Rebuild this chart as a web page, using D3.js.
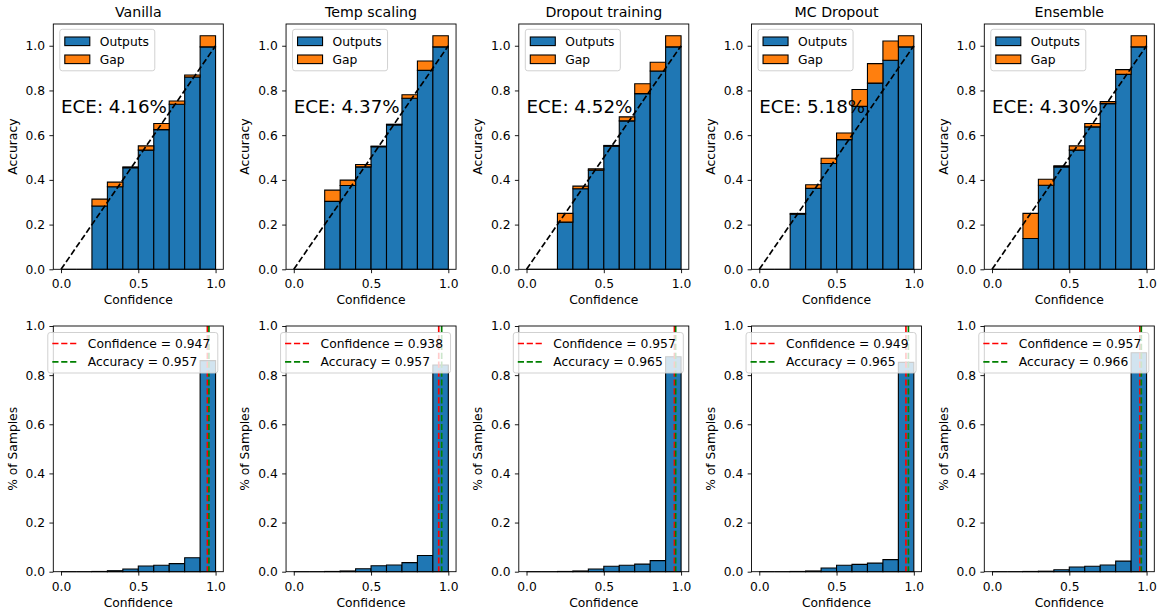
<!DOCTYPE html>
<html><head><meta charset="utf-8">
<script src="https://cdn.jsdelivr.net/npm/d3@7"></script>
<style>
body{margin:0;background:#fff}
svg{display:block}
text{font-family:"DejaVu Sans",sans-serif;fill:#000}
</style>
</head><body>
<svg id="c" width="1165" height="611"></svg>
<script>
// ---------- data ----------
const methods = ["Vanilla", "Temp scaling", "Dropout training", "MC Dropout", "Ensemble"];
const eceLabels = ["4.16%", "4.37%", "4.52%", "5.18%", "4.30%"];
const binStarts = [0, 0.1, 0.2, 0.3, 0.4, 0.5, 0.6, 0.7, 0.8, 0.9];

const accVanilla  = [0, 0, 0.283, 0.369, 0.454, 0.533, 0.625, 0.738, 0.860, 0.995];
const gapVanilla  = [0, 0, 0.031, 0.021, 0.004, 0.019, 0.027, 0.015, 0.009, 0.050];
const accTemp     = [0, 0, 0.304, 0.375, 0.458, 0.548, 0.646, 0.765, 0.890, 0.995];
const gapTemp     = [0, 0, 0.050, 0.024, 0.011, 0.003, 0.003, 0.016, 0.042, 0.050];
const accDropout  = [0, 0, 0.211, 0.360, 0.443, 0.551, 0.664, 0.786, 0.887, 0.995];
const gapDropout  = [0, 0, 0.039, 0.012, 0.006, 0.003, 0.018, 0.044, 0.039, 0.050];
const accMC       = [0, 0, 0.247, 0.362, 0.473, 0.580, 0.729, 0.833, 0.935, 0.995];
const gapMC       = [0, 0, 0.003, 0.016, 0.024, 0.030, 0.075, 0.087, 0.086, 0.050];
const accEnsemble = [0, 0, 0.138, 0.376, 0.458, 0.533, 0.637, 0.741, 0.872, 0.995];
const gapEnsemble = [0, 0, 0.112, 0.027, 0.005, 0.019, 0.015, 0.009, 0.021, 0.050];

const samplesVanilla  = [0, 0, 0.001, 0.004, 0.011, 0.023, 0.026, 0.033, 0.057, 0.859];
const samplesTemp     = [0, 0, 0.001, 0.003, 0.012, 0.024, 0.027, 0.037, 0.066, 0.841];
const samplesDropout  = [0, 0, 0.001, 0.003, 0.011, 0.022, 0.026, 0.031, 0.045, 0.875];
const samplesMC       = [0, 0, 0.001, 0.003, 0.015, 0.026, 0.030, 0.035, 0.049, 0.852];
const samplesEnsemble = [0, 0, 0.001, 0.002, 0.008, 0.019, 0.022, 0.027, 0.043, 0.891];

const avgConfidence = [0.947, 0.938, 0.957, 0.949, 0.957];
const avgAccuracy   = [0.957, 0.957, 0.965, 0.965, 0.966];

const yTicks = [0, 0.2, 0.4, 0.6, 0.8, 1.0];
const xTicks = [0, 0.5, 1.0];

const accAll = [accVanilla, accTemp, accDropout, accMC, accEnsemble];
const gapAll = [gapVanilla, gapTemp, gapDropout, gapMC, gapEnsemble];
const samplesAll = [samplesVanilla, samplesTemp, samplesDropout, samplesMC, samplesEnsemble];

// ---------- layout ----------
const svg = d3.select("#c");
const FS = 12.3, TITLE_FS = 14.2, ECE_FS = 18.3;
const L0 = 53.3, STEP = 232.75, W = 170;
const TOP = {y0: 24, y1: 269.3};
const BOT = {y0: 326, y1: 571.7};
const BLUE = "#1f77b4", ORANGE = "#ff7f0e";
const DASH = "6.2,2.7";
const binW = 0.1;

function barPath(x, y, x0, x1, v0, v1) {
  const a = x(x0), b = x(x1), t = y(v1), u = y(v0);
  return `M${a},${u}H${b}V${t}H${a}Z`;
}

function axes(g, x, y, box, xlabel, ylabel, labelBase) {
  g.append("rect").attr("x", x.range()[0]).attr("y", box.y0)
    .attr("width", x.range()[1] - x.range()[0]).attr("height", box.y1 - box.y0)
    .attr("fill", "none").attr("stroke", "#000").attr("stroke-width", 0.9);
  const xa = g.append("g").attr("transform", `translate(0,${box.y1})`)
    .call(d3.axisBottom(x).tickValues(xTicks).tickFormat(d3.format(".1f")).tickSize(3.9).tickPadding(6.2));
  const ya = g.append("g").attr("transform", `translate(${x.range()[0]},0)`)
    .call(d3.axisLeft(y).tickValues(yTicks).tickFormat(d3.format(".1f")).tickSize(3.9).tickPadding(4.4));
  [xa, ya].forEach(a => {
    a.select(".domain").remove();
    a.selectAll("line").attr("stroke", "#000").attr("stroke-width", 0.9);
    a.selectAll("text").attr("font-family", "DejaVu Sans").attr("font-size", FS).attr("fill", "#000");
  });
  const cx = (x.range()[0] + x.range()[1]) / 2;
  g.append("text").attr("x", cx).attr("y", labelBase).attr("text-anchor", "middle")
    .attr("font-size", FS).text(xlabel);
  g.append("text").attr("transform", `translate(${x.range()[0] - 36.8},${(box.y0 + box.y1) / 2}) rotate(-90)`)
    .attr("text-anchor", "middle").attr("font-size", FS).text(ylabel);
}

methods.forEach((m, i) => {
  const left = L0 + i * STEP;
  const x = d3.scaleLinear().domain([-0.05, 1.05]).range([left, left + W]);
  const acc = accAll[i], gap = gapAll[i];
  const ymax = d3.max(acc.map((a, k) => a + gap[k])) * 1.05;
  const yT = d3.scaleLinear().domain([0, ymax]).range([TOP.y1, TOP.y0]);
  const gT = svg.append("g");

  gT.selectAll("path.out").data(binStarts).join("path").attr("class", "out")
    .attr("d", (b, k) => barPath(x, yT, b, b + binW, 0, acc[k]))
    .attr("fill", BLUE).attr("stroke", "#000").attr("stroke-width", 1.1);
  gT.selectAll("path.gap").data(binStarts).join("path").attr("class", "gap")
    .attr("d", (b, k) => barPath(x, yT, b, b + binW, acc[k], acc[k] + gap[k]))
    .attr("fill", ORANGE).attr("stroke", "#000").attr("stroke-width", 1.1)
    .attr("display", (b, k) => gap[k] > 0 ? null : "none");
  gT.append("line").attr("x1", x(0)).attr("y1", yT(0)).attr("x2", x(1)).attr("y2", yT(1))
    .attr("stroke", "#000").attr("stroke-width", 1.67).attr("stroke-dasharray", DASH);
  axes(gT, x, yT, TOP, "Confidence", "Accuracy", TOP.y1 + 34.7);
  gT.append("text").attr("x", left + W / 2).attr("y", TOP.y0 - 6.8).attr("text-anchor", "middle")
    .attr("font-size", TITLE_FS).text(m);
  gT.append("text").attr("x", x(0)).attr("y", yT(0.7)).attr("font-size", ECE_FS)
    .text("ECE: " + eceLabels[i]);
  const lx = left + 6.5, ly = TOP.y0 + 5.3;
  const lg = gT.append("g");
  lg.append("rect").attr("x", lx).attr("y", ly).attr("width", 95).attr("height", 41.5)
    .attr("rx", 2.5).attr("fill", "#fff").attr("fill-opacity", 0.8)
    .attr("stroke", "#cccccc").attr("stroke-width", 0.9);
  [["Outputs", BLUE], ["Gap", ORANGE]].forEach(([lab, col], r) => {
    const cy = ly + 12 + r * 18;
    lg.append("rect").attr("x", lx + 5).attr("y", cy - 4.3).attr("width", 25).attr("height", 8.6)
      .attr("fill", col).attr("stroke", "#000").attr("stroke-width", 1.1);
    lg.append("text").attr("x", lx + 40).attr("y", cy + 4.4).attr("font-size", FS).text(lab);
  });

  // ---------- bottom ----------
  const yB = d3.scaleLinear().domain([0, 1]).range([BOT.y1, BOT.y0]);
  const gB = svg.append("g");
  const samp = samplesAll[i];
  gB.selectAll("path.hist").data(binStarts).join("path").attr("class", "hist")
    .attr("d", (b, k) => barPath(x, yB, b, b + binW, 0, samp[k]))
    .attr("fill", BLUE).attr("stroke", "#000").attr("stroke-width", 1.1);
  gB.append("line").attr("x1", x(avgConfidence[i])).attr("x2", x(avgConfidence[i]))
    .attr("y1", BOT.y0).attr("y2", BOT.y1).attr("stroke", "#ff0000").attr("stroke-width", 1.67)
    .attr("stroke-dasharray", DASH);
  gB.append("line").attr("x1", x(avgAccuracy[i])).attr("x2", x(avgAccuracy[i]))
    .attr("y1", BOT.y0).attr("y2", BOT.y1).attr("stroke", "#008000").attr("stroke-width", 1.67)
    .attr("stroke-dasharray", DASH);
  axes(gB, x, yB, BOT, "Confidence", "% of Samples", BOT.y1 + 35.3);
  const bw = 170, bx = left + W - 5.5 - bw, by = BOT.y0 + 6.5;
  const lb = gB.append("g");
  lb.append("rect").attr("x", bx).attr("y", by).attr("width", bw).attr("height", 40.5)
    .attr("rx", 2.5).attr("fill", "#fff").attr("fill-opacity", 0.8)
    .attr("stroke", "#cccccc").attr("stroke-width", 0.9);
  [["Confidence = " + avgConfidence[i].toFixed(3), "#ff0000"],
   ["Accuracy = " + avgAccuracy[i].toFixed(3), "#008000"]].forEach(([lab, col], r) => {
    const cy = by + 11 + r * 18.4;
    lb.append("line").attr("x1", bx + 4.5).attr("x2", bx + 29.5).attr("y1", cy).attr("y2", cy)
      .attr("stroke", col).attr("stroke-width", 1.67).attr("stroke-dasharray", DASH);
    lb.append("text").attr("x", bx + 40).attr("y", cy + 4.4).attr("font-size", FS).text(lab);
  });
});
</script>
</body></html>
